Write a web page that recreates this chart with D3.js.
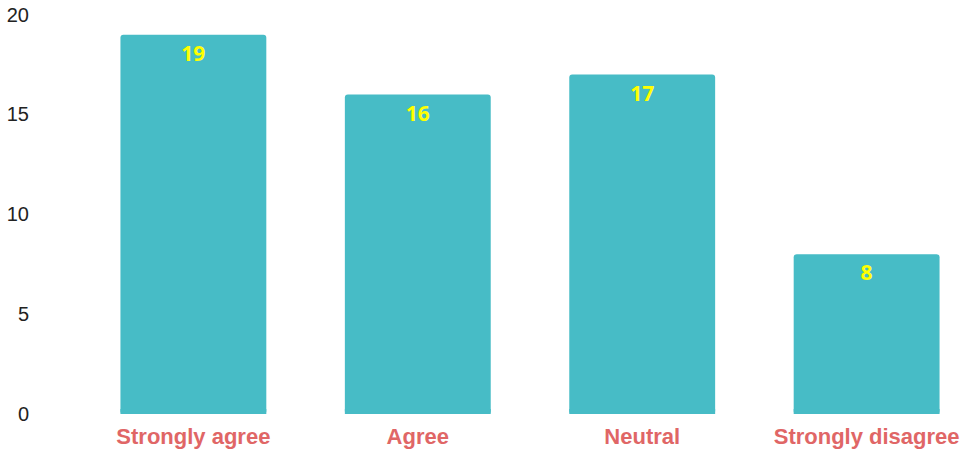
<!DOCTYPE html>
<html><head><meta charset="utf-8">
<script src="https://cdn.jsdelivr.net/npm/d3@7"></script>
<style>body{margin:0;background:#fff}</style>
</head><body>
<svg id="c" width="961" height="452"></svg>
<script>
const categories = ["Strongly agree", "Agree", "Neutral", "Strongly disagree"];
const values = [19, 16, 17, 8];
const yTicks = [0, 5, 10, 15, 20];

const svg = d3.select("#c");
const y = d3.scaleLinear().domain([0, 20]).range([414, 14.7]);
const x = d3.scaleBand().domain(categories).range([98, 962]).paddingInner(0.35).paddingOuter(0.1);

const yAxis = svg.append("g").attr("transform", "translate(29,0)")
  .call(d3.axisLeft(y).tickValues(yTicks).tickSize(0).tickPadding(0));
yAxis.select(".domain").remove();
yAxis.selectAll("text").attr("font-family", "Liberation Sans, Arial, sans-serif").attr("font-size", 20).attr("fill", "#222");

svg.selectAll("rect.bar").data(values).join("rect").attr("class", "bar")
  .attr("x", (d, i) => x(categories[i])).attr("width", x.bandwidth())
  .attr("y", d => y(d)).attr("height", d => y(0) - y(d))
  .attr("rx", 3).attr("fill", "#47bcc6");
svg.selectAll("rect.bot").data(values).join("rect").attr("class", "bot")
  .attr("x", (d, i) => x(categories[i])).attr("width", x.bandwidth())
  .attr("y", y(0) - 5).attr("height", 5).attr("fill", "#47bcc6");

svg.selectAll("text.val").data(values).join("text").attr("class", "val")
  .attr("x", (d, i) => x(categories[i]) + x.bandwidth() / 2)
  .attr("y", d => y(d) + 26)
  .attr("text-anchor", "middle").attr("font-family", "Open Sans, sans-serif")
  .attr("font-weight", "bold").attr("font-size", 21).attr("fill", "#ffff00")
  .text(d => d);

const xAxis = svg.append("g").attr("transform", "translate(0,414)")
  .call(d3.axisBottom(x).tickSize(0).tickPadding(0));
xAxis.select(".domain").remove();
xAxis.selectAll("text").attr("dy", null).attr("y", 30)
  .attr("font-family", "Liberation Sans, Arial, sans-serif").attr("font-weight", "bold")
  .attr("font-size", 22).attr("fill", "#e06666");
</script>
</body></html>
